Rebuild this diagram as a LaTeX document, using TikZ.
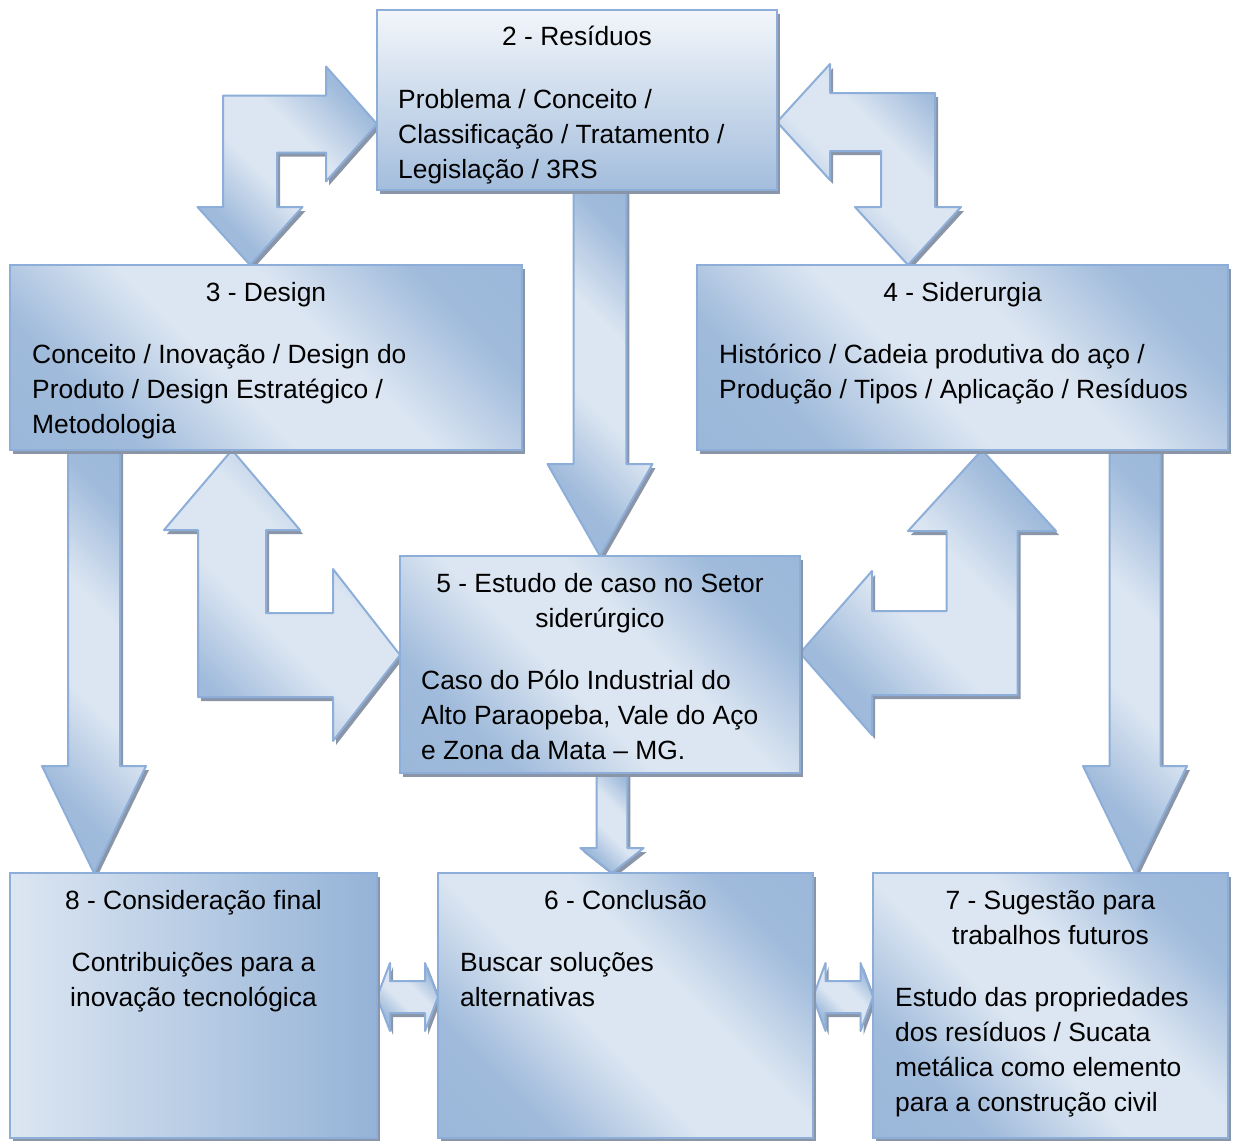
\documentclass[tikz,border=0pt]{standalone}
\usepackage{fontspec}
\setmainfont{Liberation Sans}
\usetikzlibrary{calc,shadows}

\definecolor{azulesc}{RGB}{149,179,215}
\definecolor{azulclaro}{RGB}{220,230,242}
\definecolor{borda}{RGB}{141,174,216}
\definecolor{sombra}{RGB}{138,150,168}

\pgfdeclarehorizontalshading{faixa}{100bp}{color(0bp)=(azulesc); color(28bp)=(azulesc!85!azulclaro);
  color(44bp)=(azulclaro); color(58bp)=(azulclaro); color(74bp)=(azulesc!85!azulclaro); color(100bp)=(azulesc)}

\pgfdeclarelayer{fundo}
\pgfsetlayers{fundo,main}

\newcommand{\linhas}[2]{\begin{tabular}[t]{@{}#1@{}}#2\end{tabular}}

% seta reta: origem, ponta, meia haste, meia cabeca, comprimento da cabeca
\newcommand{\setareta}[5]{%
  \draw[seta] let \p1=(#1), \p2=(#2), \n1={sign(\y2-\y1)} in
    ({\x2-#3},\y1) -- ({\x2-#3},{\y2-(\n1)*#5}) -- ({\x2-#4},{\y2-(\n1)*#5}) -- (\x2,\y2)
    -- ({\x2+#4},{\y2-(\n1)*#5}) -- ({\x2+#3},{\y2-(\n1)*#5}) -- ({\x2+#3},\y1) -- cycle;}

% seta dupla horizontal
\newcommand{\setadupla}[5]{%
  \draw[seta] let \p1=(#1), \p2=(#2) in
    (\x1,\y1) -- ({\x1+#5},{\y1+#4}) -- ({\x1+#5},{\y1+#3}) -- ({\x2-#5},{\y1+#3})
    -- ({\x2-#5},{\y1+#4}) -- (\x2,\y1) -- ({\x2-#5},{\y1-#4}) -- ({\x2-#5},{\y1-#3})
    -- ({\x1+#5},{\y1-#3}) -- ({\x1+#5},{\y1-#4}) -- cycle;}

% seta dupla em L: ponta horizontal, ponta vertical, medidas de cada braco
\newcommand{\setacurva}[8]{%
  \draw[seta] let \p1=(#1), \p2=(#2), \n1={sign(\x1-\x2)}, \n2={sign(\y2-\y1)} in
    ({\x2-(\n1)*#6},{\y1-(\n2)*#3}) -- ({\x1-(\n1)*#5},{\y1-(\n2)*#3})
    -- ({\x1-(\n1)*#5},{\y1-(\n2)*#4}) -- (\x1,\y1)
    -- ({\x1-(\n1)*#5},{\y1+(\n2)*#4}) -- ({\x1-(\n1)*#5},{\y1+(\n2)*#3})
    -- ({\x2+(\n1)*#6},{\y1+(\n2)*#3}) -- ({\x2+(\n1)*#6},{\y2-(\n2)*#8})
    -- ({\x2+(\n1)*#7},{\y2-(\n2)*#8}) -- (\x2,\y2)
    -- ({\x2-(\n1)*#7},{\y2-(\n2)*#8}) -- ({\x2-(\n1)*#6},{\y2-(\n2)*#8}) -- cycle;}

\tikzset{
  sombreado/.style={shading=faixa, shading angle=45},
  sombrinha/.style={drop shadow={shadow xshift=3pt, shadow yshift=-4pt, fill=sombra, opacity=1}},
  caixa/.style={sombreado, sombrinha, draw=borda, line width=2pt, anchor=north west,
    inner sep=0pt, outer sep=0pt},
  seta/.style={sombreado, sombrinha, draw=borda, line width=2pt, line join=round},
  titulo/.style={anchor=base, inner sep=0pt, font=\fontsize{26.4}{35}\selectfont},
  corpo/.style={anchor=base west, inner sep=0pt, font=\fontsize{26.4}{35}\selectfont}
}

\begin{document}
\begin{tikzpicture}[x=1pt, y=-1pt]
  \useasboundingbox (0,0) rectangle (1236,1140);

  \node[caixa, minimum width=400pt, minimum height=180pt,
    top color=azulclaro!35!white, bottom color=azulesc!80!azulclaro] (residuos) at (377,10) {};
  \node[caixa, minimum width=512pt, minimum height=185pt] (design) at (10,265) {};
  \node[caixa, minimum width=531pt, minimum height=185pt] (siderurgia) at (697,265) {};
  \node[caixa, minimum width=400pt, minimum height=217pt] (estudo) at (400,556) {};
  \node[caixa, minimum width=367pt, minimum height=265pt,
    left color=azulclaro, right color=azulesc] (consideracao) at (10,873) {};
  \node[caixa, minimum width=375pt, minimum height=265pt] (conclusao) at (438,873) {};
  \node[caixa, minimum width=355pt, minimum height=265pt] (sugestao) at (873,873) {};

  \node[titulo] (residuostit) at ([yshift=-36pt]residuos.north) {\linhas{c}{2 - Resíduos}};
  \node[corpo] (residuostxt) at ([xshift=21pt,yshift=-98pt]residuos.north west)
    {\linhas{l}{Problema / Conceito /\\Classificação / Tratamento /\\Legislação / 3RS}};
  \node[titulo] (designtit) at ([yshift=-36pt]design.north) {\linhas{c}{3 - Design}};
  \node[corpo] (designtxt) at ([xshift=22pt,yshift=-98pt]design.north west)
    {\linhas{l}{Conceito / Inovação / Design do\\Produto / Design Estratégico /\\Metodologia}};
  \node[titulo] (siderurgiatit) at ([yshift=-36pt]siderurgia.north) {\linhas{c}{4 - Siderurgia}};
  \node[corpo] (siderurgiatxt) at ([xshift=22pt,yshift=-98pt]siderurgia.north west)
    {\linhas{l}{Histórico / Cadeia produtiva do aço /\\Produção / Tipos / Aplicação / Resíduos}};
  \node[titulo] (estudotit) at ([yshift=-36pt]estudo.north)
    {\linhas{c}{5 - Estudo de caso no Setor\\siderúrgico}};
  \node[corpo] (estudotxt) at ([xshift=21pt,yshift=-133pt]estudo.north west)
    {\linhas{l}{Caso do Pólo Industrial do\\Alto Paraopeba, Vale do Aço\\e Zona da Mata – MG.}};
  \node[titulo] (consideracaotit) at ([yshift=-36pt]consideracao.north)
    {\linhas{c}{8 - Consideração final}};
  \node[titulo] (consideracaotxt) at ([yshift=-98pt]consideracao.north)
    {\linhas{c}{Contribuições para a\\inovação tecnológica}};
  \node[titulo] (conclusaotit) at ([yshift=-36pt]conclusao.north) {\linhas{c}{6 - Conclusão}};
  \node[corpo] (conclusaotxt) at ([xshift=22pt,yshift=-98pt]conclusao.north west)
    {\linhas{l}{Buscar soluções\\alternativas}};
  \node[titulo] (sugestaotit) at ([yshift=-36pt]sugestao.north)
    {\linhas{c}{7 - Sugestão para\\trabalhos futuros}};
  \node[corpo] (sugestaotxt) at ([xshift=22pt,yshift=-133pt]sugestao.north west)
    {\linhas{l}{Estudo das propriedades\\dos resíduos / Sucata\\metálica como elemento\\para a construção civil}};

  \begin{pgfonlayer}{fundo}
    \setacurva{[yshift=-114pt]residuos.north west}{[xshift=240pt]design.north west}{28.5pt}{57.5pt}{51pt}{27pt}{52.5pt}{58pt}
    \setacurva{[yshift=-112pt]residuos.north east}{[xshift=211pt]siderurgia.north west}{29pt}{58pt}{53pt}{27pt}{53pt}{58pt}
    \setareta{residuos.south}{estudo.north}{26.3pt}{52.5pt}{92pt}
    \setareta{design.south}{[xshift=84pt]consideracao.north west}{26pt}{52pt}{107pt}
    \setareta{siderurgia.south}{[xshift=-93pt]sugestao.north east}{25.5pt}{52pt}{107pt}
    \setareta{estudo.south}{[xshift=174pt]conclusao.north west}{15.3pt}{31.7pt}{25pt}
    \setacurva{[yshift=-99pt]estudo.north west}{[xshift=222pt]design.south west}{42pt}{86pt}{67pt}{34pt}{68pt}{80pt}
    \setacurva{[yshift=-97pt]estudo.north east}{[xshift=-246pt]siderurgia.south east}{42pt}{82pt}{72pt}{35.5pt}{74pt}{81pt}
    \setadupla{[yshift=-124pt]consideracao.north east}{conclusao.west}{16pt}{34pt}{13pt}
    \setadupla{[yshift=-124pt]conclusao.north east}{sugestao.west}{16pt}{34pt}{12.5pt}
  \end{pgfonlayer}
\end{tikzpicture}
\end{document}
